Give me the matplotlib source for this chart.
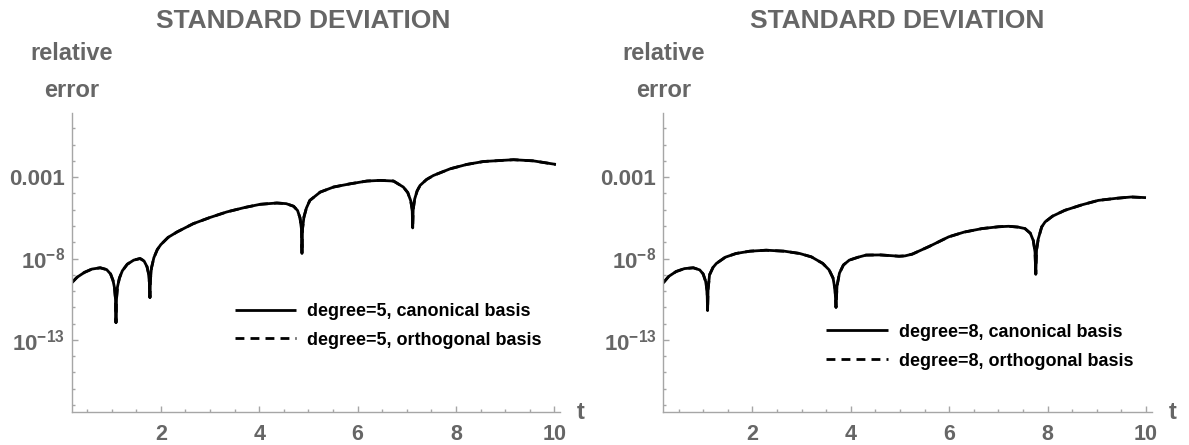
import numpy as np
import matplotlib
matplotlib.use("Agg")
import matplotlib.pyplot as plt
from matplotlib.ticker import FixedLocator, NullFormatter, FixedFormatter

plt.rcParams['font.family'] = ['Liberation Sans', 'DejaVu Sans']
plt.rcParams['font.weight'] = 'bold'
plt.rcParams['mathtext.fontset'] = 'custom'
plt.rcParams['mathtext.rm'] = 'Liberation Sans:bold'
plt.rcParams['mathtext.bf'] = 'Liberation Sans:bold'
plt.rcParams['mathtext.it'] = 'Liberation Sans:bold'

# ---------------- data (log10 of relative error) -------------
t_deg5 = [0.19, 0.30, 0.45, 0.60, 0.77, 0.90, 0.98, 1.03, 1.06, 1.08, 1.09, 1.10, 1.12,
          1.16, 1.22, 1.32, 1.45, 1.58, 1.66, 1.72, 1.75, 1.77, 1.78, 1.79, 1.81, 1.86,
          1.93, 2.00, 2.15, 2.33, 2.66, 3.00, 3.34, 3.70, 4.02, 4.36, 4.55, 4.70, 4.78,
          4.83, 4.86, 4.87, 4.88, 4.91, 4.96, 5.03, 5.24, 5.51, 5.85, 6.19, 6.46, 6.73,
          6.93, 7.02, 7.08, 7.11, 7.12, 7.13, 7.16, 7.21, 7.27, 7.40, 7.54, 7.88, 8.22,
          8.56, 9.17, 9.57, 10.03]
log_err_deg5_canonical = [-9.49, -9.15, -8.85, -8.65, -8.57, -8.68, -8.95, -9.35, -9.80,
          -10.50, -11.94, -10.50, -9.75, -9.20, -8.75, -8.35, -8.10, -8.00, -8.15, -8.50,
          -8.90, -9.50, -10.40, -9.30, -8.60, -7.95, -7.45, -7.15, -6.70, -6.37, -5.86,
          -5.48, -5.14, -4.87, -4.67, -4.59, -4.63, -4.79, -5.05, -5.50, -6.20, -7.69,
          -6.20, -5.45, -4.90, -4.43, -3.92, -3.61, -3.41, -3.24, -3.20, -3.24, -3.61,
          -3.95, -4.45, -5.00, -6.12, -5.00, -4.35, -3.85, -3.51, -3.15, -2.90, -2.49,
          -2.22, -2.04, -1.93, -2.00, -2.22]
# the orthogonal-basis curve coincides with the canonical one in the picture
log_err_deg5_orthogonal = list(log_err_deg5_canonical)

t_deg8 = [0.19, 0.30, 0.45, 0.62, 0.80, 0.93, 1.00, 1.05, 1.08, 1.09, 1.10, 1.13, 1.20,
          1.27, 1.45, 1.67, 1.95, 2.28, 2.65, 2.96, 3.20, 3.43, 3.56, 3.64, 3.68, 3.70,
          3.72, 3.77, 3.85, 3.97, 4.15, 4.31, 4.60, 4.80, 4.98, 5.10, 5.25, 5.60, 5.99,
          6.30, 6.67, 7.00, 7.21, 7.40, 7.54, 7.65, 7.71, 7.745, 7.76, 7.775, 7.81, 7.88,
          7.95, 8.10, 8.35, 8.70, 9.03, 9.40, 9.70, 10.00]
log_err_deg8_canonical = [-9.49, -9.10, -8.80, -8.62, -8.57, -8.70, -8.95, -9.40, -10.00,
          -11.20, -9.90, -9.00, -8.55, -8.30, -7.92, -7.69, -7.55, -7.49, -7.55, -7.69,
          -7.90, -8.30, -8.70, -9.20, -9.90, -11.00, -9.70, -8.90, -8.40, -8.10, -7.92,
          -7.79, -7.78, -7.82, -7.86, -7.84, -7.73, -7.25, -6.67, -6.38, -6.16, -6.05,
          -6.02, -6.07, -6.16, -6.45, -6.90, -7.60, -8.96, -7.50, -6.80, -6.06, -5.75,
          -5.40, -5.04, -4.70, -4.43, -4.30, -4.22, -4.26]
log_err_deg8_orthogonal = list(log_err_deg8_canonical)

x_major_ticks = [2, 4, 6, 8, 10]
x_minor_ticks = list(np.arange(0.5, 10.01, 0.5))
y_major_ticks = [1e-13, 1e-8, 1e-3]
y_major_labels = [r'$10^{-13}$', r'$10^{-8}$', '0.001']
y_minor_exponents = list(range(-17, 1))

title_text = "STANDARD DEVIATION"
legend_deg5 = ["degree=5, canonical basis", "degree=5, orthogonal basis"]
legend_deg8 = ["degree=8, canonical basis", "degree=8, orthogonal basis"]

# ---------------- figure ----------------
W, H = 1189, 445
fig = plt.figure(figsize=(W / 100, H / 100), dpi=100)

gray = '#666666'
axis_gray = '#a6a6a6'

ax_w = 488.6 / W
ax_h = 299 / H
ax_b = (H - 412) / H
ax1 = fig.add_axes([71.7 / W, ax_b, ax_w, ax_h])
ax2 = fig.add_axes([663.3 / W, ax_b, ax_w, ax_h])

panels = [
    (ax1, t_deg5, log_err_deg5_canonical, log_err_deg5_orthogonal, legend_deg5,
     (0.334, 0.365)),
    (ax2, t_deg8, log_err_deg8_canonical, log_err_deg8_orthogonal, legend_deg8,
     (0.334, 0.295)),
]

for ax, t, lc, lo, labels, anchor in panels:
    t = np.asarray(t)
    yc = 10.0 ** np.asarray(lc)
    yo = 10.0 ** np.asarray(lo)
    ax.plot(t, yc, color='black', lw=2.0, solid_capstyle='butt', label=labels[0])
    ax.plot(t, yo, color='black', lw=2.0, linestyle=(0, (3.2, 2.2)), label=labels[1])
    ax.set_yscale('log')
    ax.set_xlim(0.19, 10.12)
    ax.set_ylim(10 ** -17.43, 10 ** 0.94)

    for s in ['top', 'right']:
        ax.spines[s].set_visible(False)
    for s in ['left', 'bottom']:
        ax.spines[s].set_color(axis_gray)
        ax.spines[s].set_linewidth(1.0)

    ax.xaxis.set_major_locator(FixedLocator(x_major_ticks))
    ax.xaxis.set_minor_locator(FixedLocator(x_minor_ticks))
    ax.xaxis.set_minor_formatter(NullFormatter())
    ax.set_xticklabels([str(v) for v in x_major_ticks])

    ax.yaxis.set_major_locator(FixedLocator(y_major_ticks))
    ax.yaxis.set_major_formatter(FixedFormatter(y_major_labels))
    ax.yaxis.set_minor_locator(FixedLocator([10.0 ** e for e in y_minor_exponents]))
    ax.yaxis.set_minor_formatter(NullFormatter())

    ax.tick_params(which='both', direction='in', color=axis_gray, width=1.0)
    ax.tick_params(which='major', length=4.5)
    ax.tick_params(which='minor', length=2.5)
    ax.tick_params(axis='x', which='major', labelsize=15.5, labelcolor=gray, pad=9)
    ax.tick_params(axis='y', which='major', labelsize=16, labelcolor=gray, pad=5)
    for lab in ax.get_xticklabels() + ax.get_yticklabels():
        lab.set_fontweight('bold')

    ax.set_facecolor('none')
    ax.legend(loc='upper left', bbox_to_anchor=anchor, frameon=False,
              borderaxespad=0, borderpad=0, handlelength=3.4, handletextpad=0.6,
              labelspacing=0.65, prop={'size': 13, 'weight': 'bold'})

# titles, axis labels
for cx in [303, 897]:
    fig.text(cx / W, 1 - 28 / H, title_text, ha='center', va='baseline',
             fontsize=19, fontweight='bold', color=gray)
for cx in [72, 664]:
    fig.text(cx / W, 1 - 60 / H, "relative", ha='center', va='baseline',
             fontsize=17, fontweight='bold', color=gray)
    fig.text(cx / W, 1 - 97 / H, "error", ha='center', va='baseline',
             fontsize=17, fontweight='bold', color=gray)
for cx in [581, 1172.6]:
    fig.text(cx / W, 1 - 412.5 / H, "t", ha='center', va='center',
             fontsize=17, fontweight='bold', color=gray)

fig.savefig('out.png', dpi=100)
